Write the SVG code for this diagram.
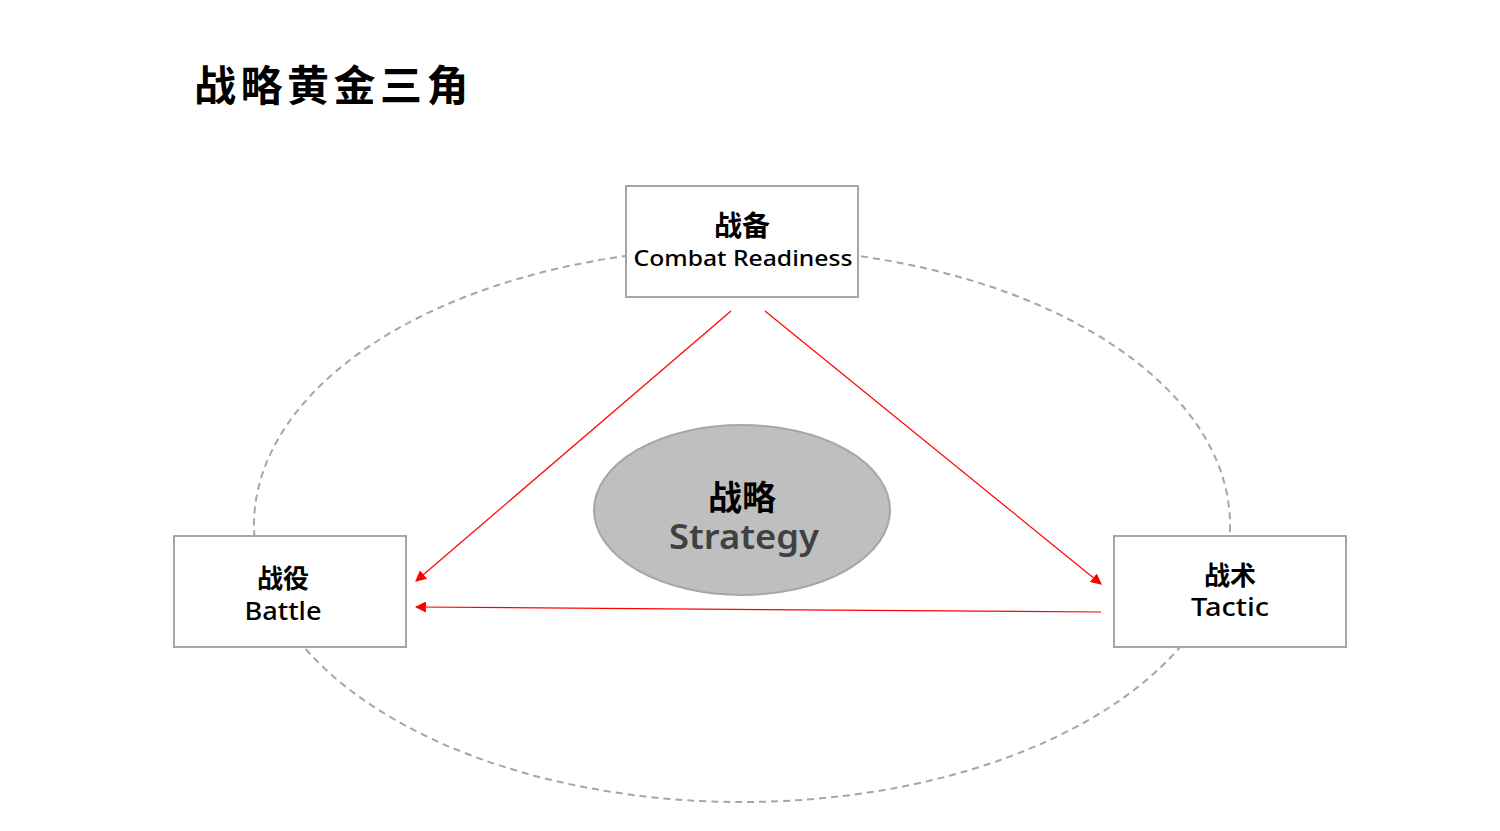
<svg xmlns="http://www.w3.org/2000/svg" width="1500" height="831" viewBox="0 0 1500 831">
<style>
.box{fill:#ffffff;stroke:#a6a6a6;stroke-width:2}
.zh{font-family:"Noto Sans CJK SC","Noto Sans",sans-serif;font-weight:bold;fill:#000;text-anchor:middle}
.en{font-family:"Noto Sans","Noto Sans CJK SC",sans-serif;fill:#000;text-anchor:middle}
.conn{stroke:#ff0000;stroke-width:1.2;fill:none;marker-end:url(#ah)}
</style>
<defs>
<marker id="ah" viewBox="0 0 10 10" refX="9" refY="5" markerWidth="11" markerHeight="11" markerUnits="userSpaceOnUse" orient="auto">
<path d="M0,0 L10,5 L0,10 Z" fill="#ff0000"/>
</marker>
</defs>
<rect width="1500" height="831" fill="#ffffff"/>
<text x="194" y="101" font-family="'Noto Sans CJK SC',sans-serif" font-weight="bold" font-size="42" letter-spacing="4.5" fill="#000">战略黄金三角</text>
<g id="orbit">
<ellipse cx="742" cy="525" rx="488" ry="277" fill="none" stroke="#a6a6a6" stroke-width="2" stroke-dasharray="7,5"/>
</g>
<g id="connectors">
<line class="conn" x1="731" y1="311" x2="416" y2="581"/>
<line class="conn" x1="765" y1="311" x2="1101" y2="584"/>
<line class="conn" x1="1101" y1="612" x2="416" y2="607"/>
</g>
<g id="strategy">
<ellipse cx="742" cy="510" rx="148" ry="85" fill="#bfbfbf" stroke="#a6a6a6" stroke-width="2"/>
<text class="zh" x="742" y="510" font-size="34">战略</text>
<text class="en" x="744" y="549" font-size="35" font-weight="600" style="fill:#404040" textLength="150" lengthAdjust="spacingAndGlyphs">Strategy</text>
</g>
<g id="readiness">
<rect class="box" x="626" y="186" width="232" height="111"/>
<text class="zh" x="742" y="236" font-size="28">战备</text>
<text class="en" x="743" y="266" font-size="22.5" font-weight="500" textLength="219" lengthAdjust="spacingAndGlyphs">Combat Readiness</text>
</g>
<g id="battle">
<rect class="box" x="174" y="536" width="232" height="111"/>
<text class="zh" x="283" y="588" font-size="26">战役</text>
<text class="en" x="283" y="620" font-size="25" font-weight="500" textLength="77" lengthAdjust="spacingAndGlyphs">Battle</text>
</g>
<g id="tactic">
<rect class="box" x="1114" y="536" width="232" height="111"/>
<text class="zh" x="1230" y="585" font-size="26">战术</text>
<text class="en" x="1230" y="616" font-size="25" font-weight="500" textLength="78" lengthAdjust="spacingAndGlyphs">Tactic</text>
</g>
</svg>
